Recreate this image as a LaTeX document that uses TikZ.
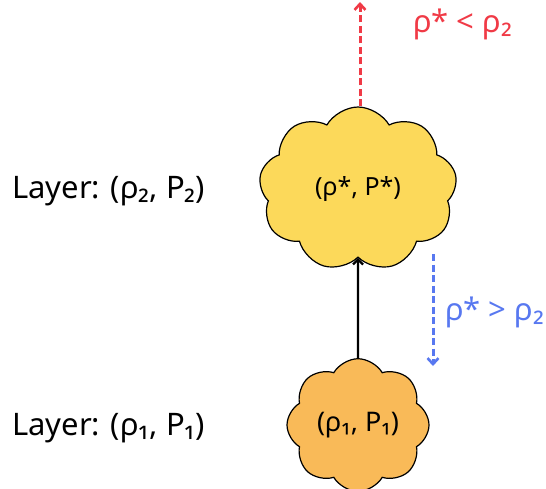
\documentclass[tikz,border=0pt]{standalone}
\usepackage{fontspec}
\setmainfont{Noto Sans}
\usetikzlibrary{shapes.symbols,arrows.meta}
\definecolor{cloudyellow}{RGB}{252,217,90}
\definecolor{cloudorange}{RGB}{249,186,88}
\definecolor{arrred}{RGB}{240,58,70}
\definecolor{arrblue}{RGB}{88,120,240}
\tikzset{
  puff/.style={draw=black, line width=1.2pt, shape=cloud, cloud puffs=9, cloud puff arc=120, inner sep=0pt},
  lbl/.style={font=\fontsize{31}{34}\selectfont, inner sep=0pt},
  dsh/.style={line width=3pt, dash pattern=on 7pt off 3.5pt, -{Straight Barb[length=6pt,width=11pt,line width=2.6pt]}},
}
\begin{document}
\begin{tikzpicture}[x=1pt,y=-1pt]
\useasboundingbox (0,0) rectangle (546,488);
\node[puff, fill=cloudyellow, minimum width=198pt, minimum height=164pt, font=\fontsize{25}{28}\selectfont] (big) at (358,189) {(ρ*, P*)};
\node[puff, fill=cloudorange, cloud puffs=8, minimum width=142pt, minimum height=114pt, font=\fontsize{27}{30}\selectfont] (small) at (358,425) {(ρ₁, P₁)};
\node[lbl, anchor=west] (l2) at (12,191) {Layer: (ρ₂, P₂)};
\node[lbl, anchor=west] (l1) at (12,428) {Layer: (ρ₁, P₁)};
\node[lbl, anchor=west, text=arrred] (tr) at (413,24) {ρ* < ρ₂};
\node[lbl, anchor=west, text=arrblue] (tb) at (445,312) {ρ* > ρ₂};
\coordinate (rtop) at (360,2);
\coordinate (bstart) at (433,254);
\coordinate (bend) at (433,366);
\draw[dsh, draw=arrred] (big.north -| rtop) -- (rtop);
\draw[dsh, draw=arrblue] (bstart) -- (bend);
\draw[line width=2.4pt, -{Straight Barb[length=5pt,width=10pt,line width=2.2pt]}] (small.north) -- (big.south);
\end{tikzpicture}
\end{document}
